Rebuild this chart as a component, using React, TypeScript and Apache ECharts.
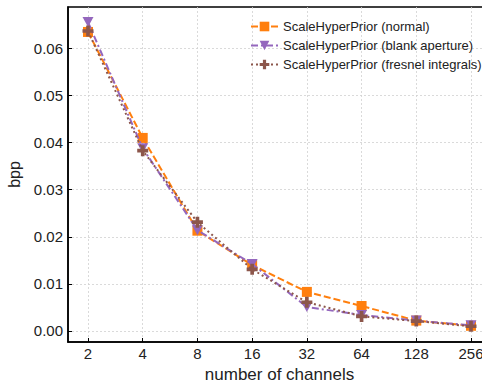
import React, { useEffect, useRef } from "react";
import * as echarts from "echarts";

const channels = [2, 4, 8, 16, 32, 64, 128, 256];
const normal = [0.0635, 0.041, 0.0213, 0.014, 0.0083, 0.0053, 0.0022, 0.0011];
const blank = [0.0656, 0.0388, 0.0214, 0.0142, 0.0051, 0.0034, 0.0022, 0.0012];
const fresnel = [0.0637, 0.0383, 0.0231, 0.0131, 0.0061, 0.0031, 0.0021, 0.001];
const yTicks = [0, 0.01, 0.02, 0.03, 0.04, 0.05, 0.06];
const seriesNames = [
  "ScaleHyperPrior (normal)",
  "ScaleHyperPrior (blank aperture)",
  "ScaleHyperPrior (fresnel integrals)",
];

const FONT = "Liberation Sans, Arial, Helvetica, sans-serif";
const plusPath = "path://M1,0H2V1H3V2H2V3H1V2H0V1H1Z";
const triDownPath = "path://M0,0L2,0L1,1.8Z";

export default function App() {
  const ref = useRef<HTMLDivElement>(null);
  useEffect(() => {
    if (!ref.current) return;
    const chart = echarts.init(ref.current, undefined, { renderer: "svg" });
    const xs = channels.map((c) => Math.log2(c));
    const mk = (vals: number[]) => vals.map((v, i) => [xs[i], v]);
    chart.setOption({
      animation: false,
      backgroundColor: "#ffffff",
      textStyle: { fontFamily: FONT },
      grid: {
        left: 68,
        top: 7,
        bottom: 43,
        width: 423,
        outerBoundsMode: "none",
        containLabel: false,
        show: true,
        borderColor: "#000",
        borderWidth: 1.5,
      },
      legend: {
        show: true,
        orient: "vertical",
        left: 245,
        top: 15,
        itemWidth: 27,
        itemHeight: 12,
        itemGap: 6,
        textStyle: { fontSize: 13, color: "#222", fontFamily: FONT },
        data: seriesNames,
      },
      xAxis: {
        type: "value",
        min: 0.6345,
        max: 8.3655,
        name: "number of channels",
        nameLocation: "middle",
        nameGap: 23,
        nameTextStyle: { fontSize: 17, color: "#222", fontFamily: FONT },
        axisLine: { show: true, onZero: false, lineStyle: { color: "#000", width: 1.5 } },
        axisTick: {
          show: true,
          inside: true,
          length: 4,
          customValues: xs,
          lineStyle: { color: "#000" },
        },
        axisLabel: {
          customValues: xs,
          formatter: (v: number) => String(Math.round(Math.pow(2, v))),
          fontSize: 15,
          color: "#222",
          margin: 4,
          fontFamily: FONT,
        },
        splitLine: {
          show: true,
          lineStyle: { color: "#d0d0d0", type: [2, 2], width: 0.8 },
        },
      },
      yAxis: {
        type: "value",
        min: -0.00234,
        max: 0.0688,
        name: "bpp",
        nameLocation: "middle",
        nameGap: 38,
        nameTextStyle: { fontSize: 16, color: "#222", fontFamily: FONT },
        axisLine: { show: true, onZero: false, lineStyle: { color: "#000", width: 1.5 } },
        axisTick: {
          show: true,
          inside: true,
          length: 4,
          customValues: yTicks,
          lineStyle: { color: "#000" },
        },
        axisLabel: {
          customValues: yTicks,
          formatter: (v: number) => v.toFixed(2),
          fontSize: 15,
          color: "#222",
          margin: 5,
          fontFamily: FONT,
        },
        splitLine: {
          show: true,
          lineStyle: { color: "#d0d0d0", type: [2, 2], width: 0.8 },
        },
      },
      series: [
        {
          name: seriesNames[0],
          type: "line",
          data: mk(normal),
          symbol: "rect",
          symbolSize: 10,
          itemStyle: { color: "#ff7f0e" },
          lineStyle: { color: "#ff7f0e", width: 2, type: [7, 3] },
          z: 2,
        },
        {
          name: seriesNames[1],
          type: "line",
          data: mk(blank),
          symbol: triDownPath,
          symbolSize: [11, 10],
          itemStyle: { color: "#9467bd" },
          lineStyle: { color: "#9467bd", width: 2, type: [7, 3, 2, 3] },
          z: 3,
        },
        {
          name: seriesNames[2],
          type: "line",
          data: mk(fresnel),
          symbol: plusPath,
          symbolSize: 11,
          itemStyle: { color: "#8c564b" },
          lineStyle: { color: "#8c564b", width: 2, type: [2, 3] },
          z: 4,
        },
      ],
    });
    return () => chart.dispose();
  }, []);
  return (
    <div
      ref={ref}
      style={{ position: "absolute", left: 0, top: 0, width: 482, height: 385 }}
    />
  );
}
